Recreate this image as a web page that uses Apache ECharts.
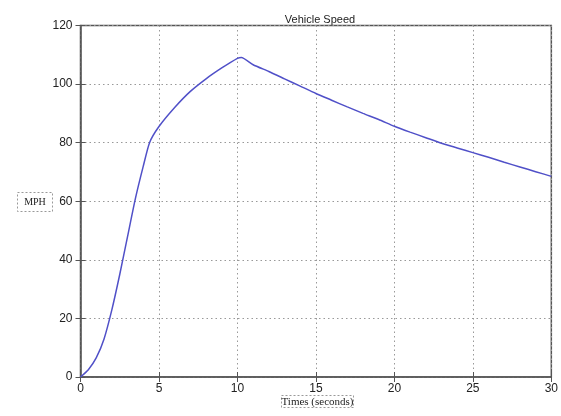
<!DOCTYPE html>
<html><head><meta charset="utf-8">
<script src="https://cdn.jsdelivr.net/npm/echarts@6/dist/echarts.min.js"></script>
<style>html,body{margin:0;padding:0;background:#fff}#c{width:561px;height:416px}</style>
</head><body><div id="c"></div>
<script>
const titleText = 'Vehicle Speed';
const xLabel = 'Times (seconds)';
const yLabel = 'MPH';
const times  = [0, 0.5, 1, 1.5, 2, 2.5, 3, 3.5, 4, 4.4, 5, 6, 7, 8, 9, 10, 10.25, 11, 12, 13, 14, 15, 16, 17, 18, 19, 20, 21, 22, 23, 24, 25, 26, 27, 28, 29, 30];
const speeds = [0, 2.5, 6.5, 13, 23, 35, 48, 61, 72, 80, 85.5, 92, 97.5, 101.8, 105.5, 108.8, 109.1, 106.6, 104.3, 101.8, 99.3, 96.8, 94.5, 92.2, 90, 87.9, 85.6, 83.6, 81.7, 79.8, 78.2, 76.6, 75, 73.3, 71.7, 70.1, 68.5];
const xMin = 0, xMax = 30, xStep = 5;
const yMin = 0, yMax = 120, yStep = 20;

const data = times.map((t, i) => [t, speeds[i]]);
const chart = echarts.init(document.getElementById('c'), null, {renderer: 'canvas'});
const axisColor = '#555';
const labelStyle = {color: '#222', fontSize: 12, fontFamily: 'Liberation Sans, Arial, sans-serif'};
const hiddenAxis = {
  axisLine: {show: false}, axisLabel: {show: false}, splitLine: {show: false},
  axisTick: {show: true, inside: true, length: 5, lineStyle: {color: axisColor, width: 1}}
};
chart.setOption({
  animation: false,
  title: {
    text: titleText, left: 315, top: 9, textAlign: 'center',
    textStyle: {fontSize: 11, fontWeight: 'normal', color: '#222', fontFamily: 'Liberation Sans, Arial, sans-serif'}
  },
  grid: {left: 80.5, right: 9.5, top: 25.5, bottom: 39, show: true, borderColor: axisColor, borderWidth: 1.5, backgroundColor: '#fff'},
  xAxis: [{
    type: 'value', min: xMin, max: xMax, interval: xStep,
    axisLine: {show: true, lineStyle: {color: axisColor, width: 1.5}},
    axisTick: {show: true, inside: true, length: 5, lineStyle: {color: axisColor}},
    axisLabel: Object.assign({margin: 6}, labelStyle),
    splitLine: {show: true, lineStyle: {color: '#999', type: [1.5, 3], width: 1}}
  }, Object.assign({type: 'value', min: xMin, max: xMax, interval: xStep, position: 'top'}, hiddenAxis)],
  yAxis: [{
    type: 'value', min: yMin, max: yMax, interval: yStep,
    axisLine: {show: true, lineStyle: {color: axisColor, width: 1.5}},
    axisTick: {show: true, inside: true, length: 5, lineStyle: {color: axisColor}},
    axisLabel: Object.assign({margin: 8}, labelStyle),
    splitLine: {show: true, lineStyle: {color: '#999', type: [1.5, 3], width: 1}}
  }, Object.assign({type: 'value', min: yMin, max: yMax, interval: yStep, position: 'right'}, hiddenAxis)],
  graphic: [
    {type: 'rect', shape: {x: 17.5, y: 192.5, width: 35, height: 19}, style: {fill: '#fff', stroke: '#999', lineWidth: 1, lineDash: [2, 2]}},
    {type: 'text', x: 35, y: 202, style: {text: yLabel, fill: '#222', font: '10px "Liberation Serif", "Times New Roman", serif', align: 'center', verticalAlign: 'middle'}},
    {type: 'rect', shape: {x: 281.5, y: 395.5, width: 72, height: 12}, style: {fill: '#fff', stroke: '#999', lineWidth: 1, lineDash: [2, 2]}},
    {type: 'text', x: 317.5, y: 402, style: {text: xLabel, fill: '#222', font: '11px "Liberation Serif", "Times New Roman", serif', align: 'center', verticalAlign: 'middle'}}
  ],
  series: [{
    type: 'line', data: data, showSymbol: false, smooth: 0.2,
    lineStyle: {color: '#5050c8', width: 1.5}, clip: true
  }]
});
</script></body></html>
